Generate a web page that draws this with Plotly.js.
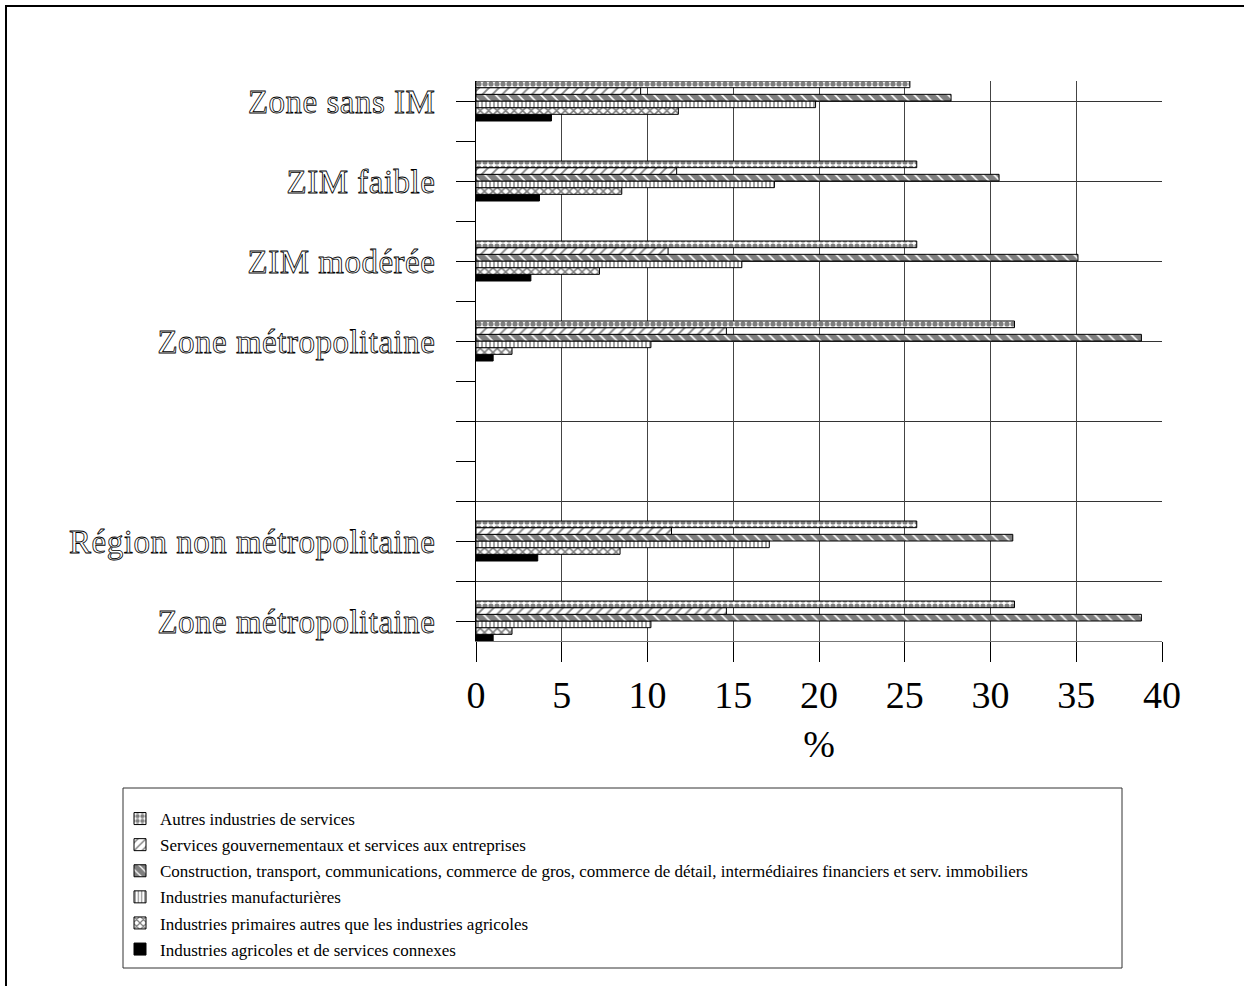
<!DOCTYPE html>
<html><head><meta charset="utf-8">
<script src="https://cdn.plot.ly/plotly-3.0.1.min.js"></script>
<style>
html,body{margin:0;padding:0;background:#fff;}
#wrap{position:relative;width:1244px;height:986px;overflow:hidden;}
#chart{width:1244px;height:986px;}
#frame{position:absolute;left:5px;top:5px;width:1300px;height:1000px;border-top:2px solid #000;border-left:2px solid #000;pointer-events:none;}
.ytick text{fill:#fff !important;stroke:#000;stroke-width:0.8px;letter-spacing:0.5px;}
</style></head>
<body><div id="wrap"><div id="chart"></div><div id="frame"></div></div>
<script>
// Categories listed bottom to top
const categories = ["Zone métropolitaine", "Région non métropolitaine", "Zone métropolitaine", "ZIM modérée", "ZIM faible", "Zone sans IM"];

// Series (legend order), values in %
const seriesNames = [
  "Autres industries de services",
  "Services gouvernementaux et services aux entreprises",
  "Construction, transport, communications, commerce de gros, commerce de détail, intermédiaires financiers et serv. immobiliers",
  "Industries manufacturières",
  "Industries primaires autres que les industries agricoles",
  "Industries agricoles et de services connexes"
];
const autresServices   = [31.4, 25.7, 31.4, 25.7, 25.7, 25.3];
const servicesGouv     = [14.6, 11.4, 14.6, 11.2, 11.7, 9.6];
const construction     = [38.8, 31.3, 38.8, 35.1, 30.5, 27.7];
const manufacturieres  = [10.2, 17.1, 10.2, 15.5, 17.4, 19.8];
const primaires        = [2.1, 8.4, 2.1, 7.2, 8.5, 11.8];
const agricoles        = [1.0, 3.6, 1.0, 3.2, 3.7, 4.4];

const xTicks = [0, 5, 10, 15, 20, 25, 30, 35, 40];

// ---- layout / styling ----
const slotPos = [0.5, 2.5, 7.5, 9.5, 11.5, 13.5]; // vertical slot of each category
const FONT = "Liberation Serif, Times New Roman, serif";
const values = [autresServices, servicesGouv, construction, manufacturieres, primaires, agricoles];
const patterns = [
  {shape: ".", size: 6, solidity: 0.6, fgcolor: "#000", bgcolor: "#fff", fillmode: "overlay"},
  {shape: "/", size: 7, solidity: 0.25, fgcolor: "#000", bgcolor: "#fff", fillmode: "overlay"},
  {shape: "\\", size: 8, solidity: 0.8, fgcolor: "#000", bgcolor: "#fff", fillmode: "overlay"},
  {shape: "|", size: 4, solidity: 0.35, fgcolor: "#000", bgcolor: "#fff", fillmode: "overlay"},
  {shape: "x", size: 6, solidity: 0.45, fgcolor: "#000", bgcolor: "#fff", fillmode: "overlay"},
  {shape: "", fgcolor: "#000", bgcolor: "#000"}
];

const traces = [];
for (let i = seriesNames.length - 1; i >= 0; i--) {
  traces.push({
    type: "bar", orientation: "h",
    name: seriesNames[i], legendgroup: "g" + i, legendrank: i + 1,
    x: values[i], y: slotPos,
    marker: {color: i === 5 ? "#000" : "#fff", line: {color: "#000", width: 1}, pattern: patterns[i]},
    hoverinfo: "x+name"
  });
}
traces.push({type: "scatter", x: [], y: [], yaxis: "y2", showlegend: false, hoverinfo: "skip"});

// legend frame box in paper coordinates (plot area: x 476..1162, y 81..641 px)
const px2x = p => (p - 476) / 686;
const px2y = p => (641 - p) / 560;

const layout = {
  width: 1244, height: 986,
  margin: {l: 476, r: 82, t: 81, b: 345},
  paper_bgcolor: "#fff", plot_bgcolor: "#fff",
  font: {family: FONT, color: "#000"},
  barmode: "group", bargap: 0.5, bargroupgap: 0,
  showlegend: true,
  xaxis: {
    range: [0, 40], tickmode: "array", tickvals: xTicks, ticktext: xTicks.map(String),
    ticks: "outside", ticklen: 20, tickcolor: "#000", tickwidth: 1,
    showgrid: true, gridcolor: "#444", gridwidth: 1,
    showline: true, linecolor: "#777", linewidth: 1, zeroline: false,
    tickfont: {family: FONT, size: 38, color: "#000"},
    title: {text: "%", font: {family: FONT, size: 38, color: "#000"}, standoff: 15},
    automargin: false, fixedrange: true
  },
  yaxis: {
    range: [0, 14], tickmode: "array", tickvals: slotPos, ticktext: categories,
    ticks: "outside", ticklen: 19, tickcolor: "#000", tickwidth: 1,
    ticklabelstandoff: 14,
    showgrid: false, showline: true, linecolor: "#000", linewidth: 1, zeroline: false,
    tickfont: {family: FONT, size: 33, color: "#000"},
    minor: {tick0: 1.5, dtick: 2, showgrid: true, gridcolor: "#333", gridwidth: 1, ticks: ""},
    automargin: false, fixedrange: true
  },
  yaxis2: {
    overlaying: "y", anchor: "x", side: "left", range: [0, 14],
    tickmode: "linear", tick0: 0.5, dtick: 1,
    ticks: "outside", ticklen: 19, tickcolor: "#000", tickwidth: 1,
    showticklabels: false, showgrid: false, showline: false, zeroline: false,
    automargin: false, fixedrange: true
  },
  legend: {
    x: px2x(120), y: px2y(801), xanchor: "left", yanchor: "top",
    traceorder: "grouped", tracegroupgap: 1,
    borderwidth: 0, bgcolor: "rgba(0,0,0,0)",
    font: {family: FONT, size: 17, color: "#000"}
  },
  shapes: [{
    type: "rect", xref: "paper", yref: "paper", layer: "below",
    x0: px2x(123), x1: px2x(1122), y0: px2y(968), y1: px2y(788),
    line: {color: "#333", width: 1}, fillcolor: "rgba(0,0,0,0)"
  }]
};

Plotly.newPlot("chart", traces, layout, {displayModeBar: false, staticPlot: true});
</script>
</body></html>
